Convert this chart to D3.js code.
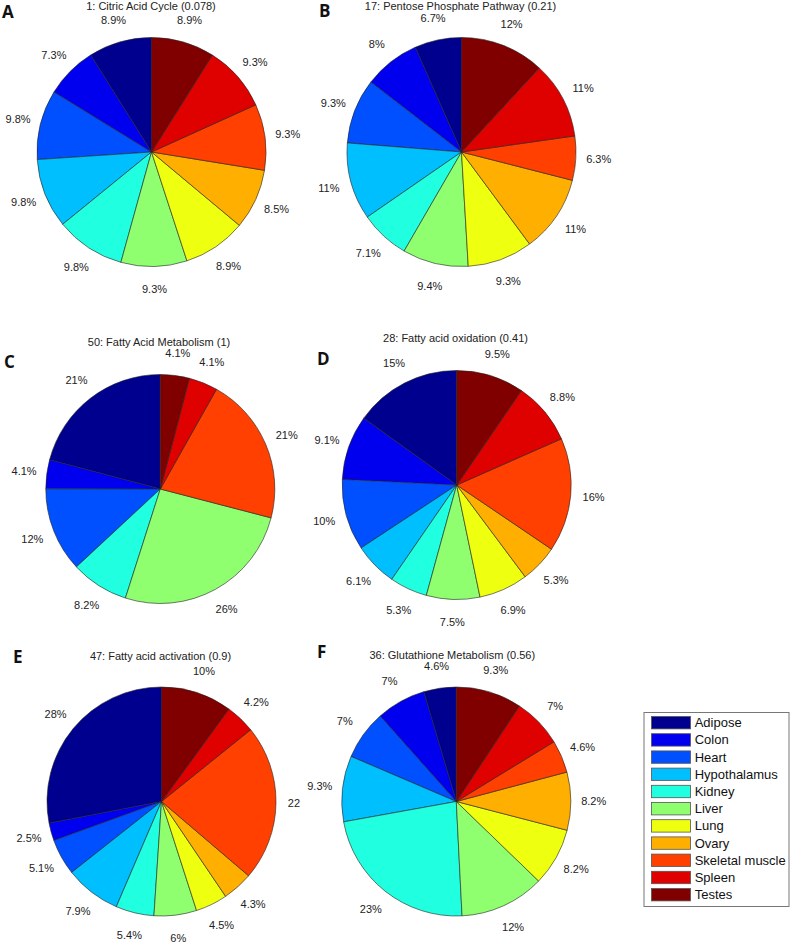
<!DOCTYPE html>
<html>
<head>
<meta charset="utf-8">
<script src="https://cdn.jsdelivr.net/npm/d3@7"></script>
<style>
  html, body { margin: 0; padding: 0; background: #fff; }
  svg { display: block; }
</style>
</head>
<body>
<div id="chart"></div>
<script>
// ---------- DATA ----------
const tissues = ["Adipose", "Colon", "Heart", "Hypothalamus", "Kidney", "Liver",
                 "Lung", "Ovary", "Skeletal muscle", "Spleen", "Testes"];
const tissueColors = ["#00008F", "#0000EF", "#0050FF", "#00BFFF", "#20FFDF", "#8FFF70",
                      "#EFFF10", "#FFAF00", "#FF4000", "#DF0000", "#800000"];

const panelLetters = ["A", "B", "C", "D", "E", "F"];
const panelTitles = [
  "1: Citric Acid Cycle (0.078)",
  "17: Pentose Phosphate Pathway (0.21)",
  "50: Fatty Acid Metabolism (1)",
  "28: Fatty acid oxidation (0.41)",
  "47: Fatty acid activation (0.9)",
  "36: Glutathione Metabolism (0.56)"
];
// percentages, in tissue order
const valuesA = [8.9, 7.3, 9.8, 9.8, 9.8, 9.3, 8.9, 8.5, 9.3, 9.3, 8.9];
const valuesB = [6.7, 8, 9.3, 11, 7.1, 9.4, 9.3, 11, 6.3, 11, 12];
const valuesC = [21, 4.1, 12, 0, 8.2, 26, 0, 0, 21, 4.1, 4.1];
const valuesD = [15, 9.1, 10, 6.1, 5.3, 7.5, 6.9, 5.3, 16, 8.8, 9.5];
const valuesE = [28, 2.5, 5.1, 7.9, 5.4, 6, 4.5, 4.3, 22, 4.2, 10];
const valuesF = [4.6, 7, 7, 9.3, 23, 12, 8.2, 8.2, 4.6, 7, 9.3];
// the "22%" label in panel E is clipped in the original to "22"
const clippedLabels = { E: { "Skeletal muscle": "22" } };

// ---------- LAYOUT ----------
const W = 790, H = 943;
const R = 114.5;
const layout = {
  A: { cx: 151.5, cy: 152,   tx: 151,   ty: 9.5, lx: 2,   ly: 17.5 },
  B: { cx: 461.5, cy: 152,   tx: 460.5, ty: 9.5, lx: 319, ly: 17 },
  C: { cx: 160.3, cy: 489,   tx: 159,   ty: 346, lx: 4,   ly: 368 },
  D: { cx: 456.7, cy: 485,   tx: 455.5, ty: 342, lx: 317, ly: 365 },
  E: { cx: 161.5, cy: 801.5, tx: 160.5, ty: 660, lx: 13,  ly: 663 },
  F: { cx: 456.3, cy: 801.5, tx: 452.3, ty: 659, lx: 317, ly: 658 }
};
const allValues = [valuesA, valuesB, valuesC, valuesD, valuesE, valuesF];

const color = d3.scaleOrdinal(tissues, tissueColors);
const fmt = v => (Number.isInteger(v) ? String(v) : d3.format(".1f")(v)) + "%";

const svg = d3.select("#chart").append("svg")
  .attr("width", W).attr("height", H)
  .attr("viewBox", [0, 0, W, H]);
svg.append("rect").attr("width", W).attr("height", H).attr("fill", "#fff");

const pie = d3.pie().sort(null).value(d => d.value)
  .startAngle(0).endAngle(-2 * Math.PI);
const arc = d3.arc().innerRadius(0).outerRadius(R);
const labelR = R * 1.2;

panelLetters.forEach((id, i) => {
  const L = layout[id];
  const data = tissues.map((t, k) => ({ tissue: t, value: allValues[i][k] }))
                      .filter(d => d.value > 0);
  const arcs = pie(data);
  const g = svg.append("g");

  g.append("text")
    .attr("x", L.lx).attr("y", L.ly)
    .attr("font-family", "'Open Sans', 'DejaVu Sans', sans-serif")
    .attr("font-weight", 700).attr("font-size", 17).attr("fill", "#111")
    .text(id);

  g.append("text")
    .attr("x", L.tx).attr("y", L.ty)
    .attr("text-anchor", "middle")
    .attr("font-family", "'Liberation Sans', Arial, sans-serif")
    .attr("font-size", 11).attr("fill", "#222")
    .text(panelTitles[i]);

  const pg = g.append("g").attr("transform", `translate(${L.cx},${L.cy})`);
  pg.selectAll("path").data(arcs).join("path")
    .attr("d", arc)
    .attr("fill", d => color(d.data.tissue))
    .attr("stroke", "#222").attr("stroke-width", 0.6)
    .attr("stroke-linejoin", "round");

  pg.selectAll("text.lbl").data(arcs).join("text")
    .attr("class", "lbl")
    .attr("font-family", "'Liberation Sans', Arial, sans-serif")
    .attr("font-size", 11).attr("fill", "#222")
    .attr("dominant-baseline", "central")
    .each(function (d) {
      const mid = (d.startAngle + d.endAngle) / 2;
      const x = labelR * Math.sin(mid);
      const y = -labelR * Math.cos(mid);
      const full = fmt(d.data.value);
      const clip = clippedLabels[id] && clippedLabels[id][d.data.tissue];
      const t = d3.select(this).attr("y", y);
      if (clip) {
        // measure the full label, keep only its visible part at the same start
        t.text(full).attr("text-anchor", "start");
        const w = this.getComputedTextLength();
        t.attr("x", x - w / 2).text(clip);
      } else {
        t.attr("x", x).attr("text-anchor", "middle").text(full);
      }
    });
});

// ---------- LEGEND ----------
const lg = svg.append("g");
const legX = 644, legY = 712.5, legW = 145, legH = 194;
lg.append("rect")
  .attr("x", legX).attr("y", legY).attr("width", legW).attr("height", legH)
  .attr("fill", "#fff").attr("stroke", "#777").attr("stroke-width", 1);
const rowY = d3.scalePoint().domain(tissues).range([722.7, 894.7]);
const rows = lg.selectAll("g.row").data(tissues).join("g").attr("class", "row")
  .attr("transform", d => `translate(0,${rowY(d)})`);
rows.append("rect")
  .attr("x", 651.5).attr("y", -6.2).attr("width", 39).attr("height", 12.4)
  .attr("fill", d => color(d)).attr("stroke", "#555").attr("stroke-width", 0.8);
rows.append("text")
  .attr("x", 694.7).attr("y", 0)
  .attr("dominant-baseline", "central")
  .attr("font-family", "'Liberation Sans', Arial, sans-serif")
  .attr("font-size", 13).attr("fill", "#111")
  .text(d => d);
</script>
</body>
</html>
